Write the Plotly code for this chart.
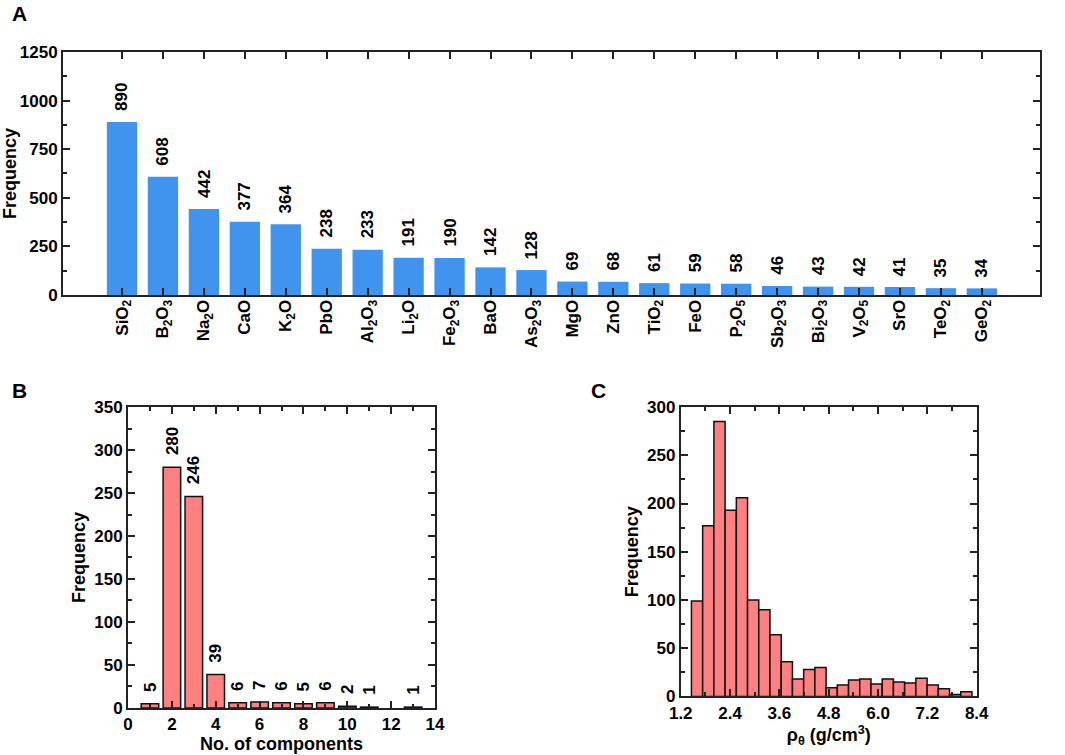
import plotly.graph_objects as go

# A: oxide frequency
oxides = ["SiO<sub>2</sub>", "B<sub>2</sub>O<sub>3</sub>", "Na<sub>2</sub>O", "CaO", "K<sub>2</sub>O", "PbO",
          "Al<sub>2</sub>O<sub>3</sub>", "Li<sub>2</sub>O", "Fe<sub>2</sub>O<sub>3</sub>", "BaO",
          "As<sub>2</sub>O<sub>3</sub>", "MgO", "ZnO", "TiO<sub>2</sub>", "FeO", "P<sub>2</sub>O<sub>5</sub>",
          "Sb<sub>2</sub>O<sub>3</sub>", "Bi<sub>2</sub>O<sub>3</sub>", "V<sub>2</sub>O<sub>5</sub>", "SrO",
          "TeO<sub>2</sub>", "GeO<sub>2</sub>"]
oxide_freq = [890, 608, 442, 377, 364, 238, 233, 191, 190, 142, 128, 69, 68, 61, 59, 58, 46, 43, 42, 41, 35, 34]

# B: number of components
n_components = [1, 2, 3, 4, 5, 6, 7, 8, 9, 10, 11, 13]
comp_freq = [5, 280, 246, 39, 6, 7, 6, 5, 6, 2, 1, 1]

# C: density histogram
density_bin_start = 1.46
density_bin_width = 0.273
density_counts = [99, 177, 285, 193, 206, 100, 90, 64, 36, 18, 28, 30, 9, 12, 17, 18, 13, 18, 15, 14, 19, 12, 8, 2, 5]
density_centers = [density_bin_start + density_bin_width * (i + 0.5) for i in range(len(density_counts))]

FONT = "Liberation Sans, Arial, sans-serif"
BLUE = "#4194EE"
PINK = "#FF8080"
LINE = "#222222"

fig = go.Figure()
fig.add_trace(go.Bar(x=oxides, y=oxide_freq, marker=dict(color=BLUE, line=dict(width=0)),
                     width=0.74, xaxis="x", yaxis="y"))
fig.add_trace(go.Bar(x=n_components, y=comp_freq, marker=dict(color=PINK, line=dict(color="#111", width=1.5)),
                     width=0.8, xaxis="x2", yaxis="y2"))
fig.add_trace(go.Bar(x=density_centers, y=density_counts, marker=dict(color=PINK, line=dict(color="#111", width=1.5)),
                     width=density_bin_width, xaxis="x3", yaxis="y3"))

annotations = []
for cat, v in zip(oxides, oxide_freq):
    annotations.append(dict(x=cat, y=v, xref="x", yref="y", text=str(v), textangle=-90, showarrow=False,
                            yanchor="bottom", yshift=9, font=dict(family=FONT, size=17, color="black", weight="bold")))
for c, v in zip(n_components, comp_freq):
    annotations.append(dict(x=c, y=v, xref="x2", yref="y2", text=str(v), textangle=-90, showarrow=False,
                            yanchor="bottom", yshift=10, font=dict(family=FONT, size=17, color="black", weight="bold")))
for lbl, xp, yp in [("A", 0.0095, 1.0), ("B", 0.0095, 0.501), ("C", 0.553, 0.501)]:
    annotations.append(dict(x=xp, y=yp, xref="paper", yref="paper", text=lbl, showarrow=False,
                            xanchor="left", yanchor="top", font=dict(family=FONT, size=21, color="black", weight="bold")))

tickfont = dict(family=FONT, size=17, color="black", weight="bold")
titlefont = dict(family=FONT, size=18, color="black", weight="bold")
axis_common = dict(showline=True, linecolor=LINE, linewidth=2, mirror="ticks", ticks="inside",
                   tickcolor=LINE, tickwidth=1.5, ticklen=7, showgrid=False, zeroline=False, tickfont=tickfont,
                   automargin=False)

fig.update_layout(
    width=1065, height=755,
    margin=dict(l=0, r=0, t=0, b=0),
    paper_bgcolor="white", plot_bgcolor="white",
    showlegend=False,
    annotations=annotations,
    xaxis=dict(domain=[0.0592, 0.9765], anchor="y", range=[-1.44, 22.42], tickangle=-90,
               ticklabelstandoff=-4, **axis_common),
    yaxis=dict(domain=[0.6093, 0.9311], anchor="x", range=[0, 1250], dtick=250,
               title=dict(text="Frequency", font=titlefont, standoff=4),
               minor=dict(ticks="inside", dtick=125, ticklen=4, tickcolor=LINE), **axis_common),
    xaxis2=dict(domain=[0.1202, 0.4085], anchor="y2", range=[0, 14], dtick=2,
                title=dict(text="No. of components", font=titlefont, standoff=2),
                minor=dict(ticks="inside", dtick=1, ticklen=4, tickcolor=LINE), **axis_common),
    yaxis2=dict(domain=[0.0623, 0.4609], anchor="x2", range=[0, 350], dtick=50,
                title=dict(text="Frequency", font=titlefont, standoff=4),
                minor=dict(ticks="inside", dtick=25, ticklen=4, tickcolor=LINE), **axis_common),
    xaxis3=dict(domain=[0.6392, 0.9171], anchor="y3", range=[1.2, 8.4], tick0=1.2, dtick=1.2, tickformat=".1f",
                title=dict(text="ρ<sub>θ</sub> (g/cm<sup>3</sup>)", font=titlefont, standoff=2),
                minor=dict(ticks="inside", dtick=0.6, ticklen=4, tickcolor=LINE), **axis_common),
    yaxis3=dict(domain=[0.0775, 0.4609], anchor="x3", range=[0, 300], dtick=50,
                title=dict(text="Frequency", font=titlefont, standoff=4),
                minor=dict(ticks="inside", dtick=25, ticklen=4, tickcolor=LINE), **axis_common),
)

fig.write_html("out.html", config={"displayModeBar": False},
               post_script="document.body.style.margin='0';document.body.style.overflow='hidden';")
